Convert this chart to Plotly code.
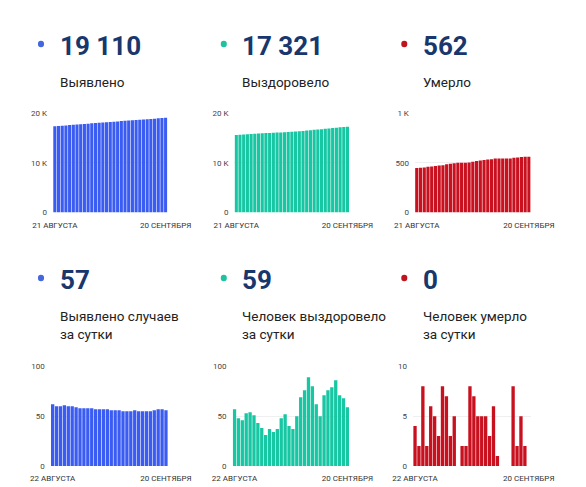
import plotly.graph_objects as go
import pandas as pd

# ---------------- data ----------------
dates_total = [d.strftime("%Y-%m-%d") for d in pd.date_range("2020-08-21", "2020-09-20")]
dates_daily = dates_total[1:]

detected_total = [17393, 17455, 17515, 17575, 17636, 17696, 17756, 17815, 17873, 17931,
                  17989, 18047, 18104, 18161, 18218, 18275, 18331, 18387, 18443, 18498,
                  18553, 18608, 18664, 18719, 18774, 18829, 18884, 18940, 18997, 19054, 19110]
recovered_total = [15629, 15686, 15734, 15780, 15833, 15887, 15938, 15981, 16019, 16050,
                   16087, 16121, 16158, 16206, 16258, 16298, 16335, 16385, 16454, 16530,
                   16619, 16699, 16761, 16811, 16882, 16958, 17037, 17123, 17194, 17262, 17321]
deaths_total = [448, 452, 454, 462, 464, 470, 475, 478, 486, 493,
                496, 501, 501, 503, 505, 513, 520, 525, 530, 535,
                538, 544, 545, 545, 545, 545, 553, 555, 560, 562, 562]

detected_daily = [62, 60, 60, 61, 60, 60, 59, 58, 58, 58,
                  58, 57, 57, 57, 57, 56, 56, 56, 55, 55,
                  55, 56, 55, 55, 55, 55, 56, 57, 57, 56]
recovered_daily = [57, 48, 46, 53, 54, 51, 43, 38, 31, 37,
                   34, 37, 48, 52, 40, 37, 50, 69, 76, 89,
                   80, 62, 50, 71, 76, 79, 86, 71, 68, 59]
deaths_daily = [4, 2, 8, 2, 6, 5, 3, 8, 7, 3,
                5, 0, 2, 2, 8, 7, 5, 5, 5, 3,
                6, 1, 0, 0, 0, 8, 2, 5, 2, 0]

headline_values = ["19 110", "17 321", "562", "57", "59", "0"]
headline_labels = ["Выявлено", "Выздоровело", "Умерло",
                   "Выявлено случаев<br>за сутки", "Человек выздоровело<br>за сутки",
                   "Человек умерло<br>за сутки"]

y_tickvals = [[0, 10000, 20000], [0, 10000, 20000], [0, 500, 1000],
              [0, 50, 100], [0, 50, 100], [0, 5, 10]]
y_ticktext = [["0", "10 K", "20 K"], ["0", "10 K", "20 K"], ["0", "500", "1 K"],
              ["0", "50", "100"], ["0", "50", "100"], ["0", "5", "10"]]
x_ticktext_total = ["21 АВГУСТА", "20 СЕНТЯБРЯ"]
x_ticktext_daily = ["22 АВГУСТА", "20 СЕНТЯБРЯ"]

# ---------------- style ----------------
W, H = 586, 487
BLUE, TEAL, RED = "#3b5cf2", "#17c6a3", "#c8101f"
DOT_COLORS = ["#4466e0", "#1ec2a0", "#c0141f"]
NAVY = "#17376d"
FONT = "Roboto"

series = [
    (dates_total, detected_total, BLUE),
    (dates_total, recovered_total, TEAL),
    (dates_total, deaths_total, RED),
    (dates_daily, detected_daily, BLUE),
    (dates_daily, recovered_daily, TEAL),
    (dates_daily, deaths_daily, RED),
]

# pixel geometry of each plot area: (left, right, top, bottom)
boxes = [
    (26, 150, 103.3, 204.3),
    (222.5, 347, 103.3, 204.3),
    (418, 543.5, 103.3, 204.3),
    (23.5, 150.5, 361, 462.5),
    (220.5, 347, 361, 462.5),
    (416, 543.5, 361, 462.5),
]

fig = go.Figure()
layout = dict(
    width=W, height=H,
    margin=dict(l=0, r=0, t=0, b=0),
    paper_bgcolor="white", plot_bgcolor="white",
    showlegend=False, bargap=0.15,
    font=dict(family=FONT),
)

for i, ((xs, ys, col), (l, r, t, b)) in enumerate(zip(series, boxes)):
    n = "" if i == 0 else str(i + 1)
    fig.add_trace(go.Bar(x=xs, y=ys, marker=dict(color=col, line=dict(width=0)),
                         xaxis="x" + n, yaxis="y" + n, hoverinfo="skip"))
    ttx = x_ticktext_total if i < 3 else x_ticktext_daily
    layout["xaxis" + n] = dict(
        domain=[l / W, r / W], anchor="y" + n, type="category",
        tickmode="array", tickvals=[xs[0], xs[-1]], ticktext=ttx,
        showgrid=False, zeroline=False, showline=False, ticks="",
        tickfont=dict(family=FONT, size=8, color="#333"), ticklabelstandoff=6,
        fixedrange=True,
    )
    yt = y_tickvals[i]
    layout["yaxis" + n] = dict(
        domain=[1 - b / H, 1 - t / H], anchor="x" + n,
        range=[0, yt[-1]], tickmode="array", tickvals=yt, ticktext=y_ticktext[i],
        showgrid=True, gridcolor="#efefef", gridwidth=1,
        zeroline=False, showline=False, ticks="",
        tickfont=dict(family=FONT, size=8, color="#444"), ticklabelstandoff=5,
        fixedrange=True,
    )

# headline blocks
col_dot_x = [13, 211, 406.5]
col_text_x = [31, 229, 425]
row_num_y = [35, 273]
row_label_y = [71, 319]
row_dot_y = [32.5, 271]
shapes = []
annotations = []
for i in range(6):
    c, rrow = i % 3, i // 3
    dx, dy, rad = col_dot_x[c], row_dot_y[rrow], 3.3
    shapes.append(dict(type="circle", xref="paper", yref="paper",
                       x0=(dx - rad) / W, x1=(dx + rad) / W,
                       y0=1 - (dy + rad) / H, y1=1 - (dy - rad) / H,
                       fillcolor=DOT_COLORS[c], line=dict(width=0)))
    annotations.append(dict(text="<b>" + headline_values[i] + "</b>", xref="paper", yref="paper",
                            x=col_text_x[c] / W, y=1 - row_num_y[rrow] / H,
                            xanchor="left", yanchor="middle", showarrow=False,
                            font=dict(family=FONT, size=26, color=NAVY)))
    annotations.append(dict(text=headline_labels[i], xref="paper", yref="paper",
                            x=col_text_x[c] / W, y=1 - row_label_y[rrow] / H,
                            xanchor="left", yanchor="middle", align="left", showarrow=False,
                            font=dict(family=FONT, size=13.5, color="#222")))

layout["shapes"] = shapes
layout["annotations"] = annotations
fig.update_layout(**layout)
fig.write_html("out.html")
